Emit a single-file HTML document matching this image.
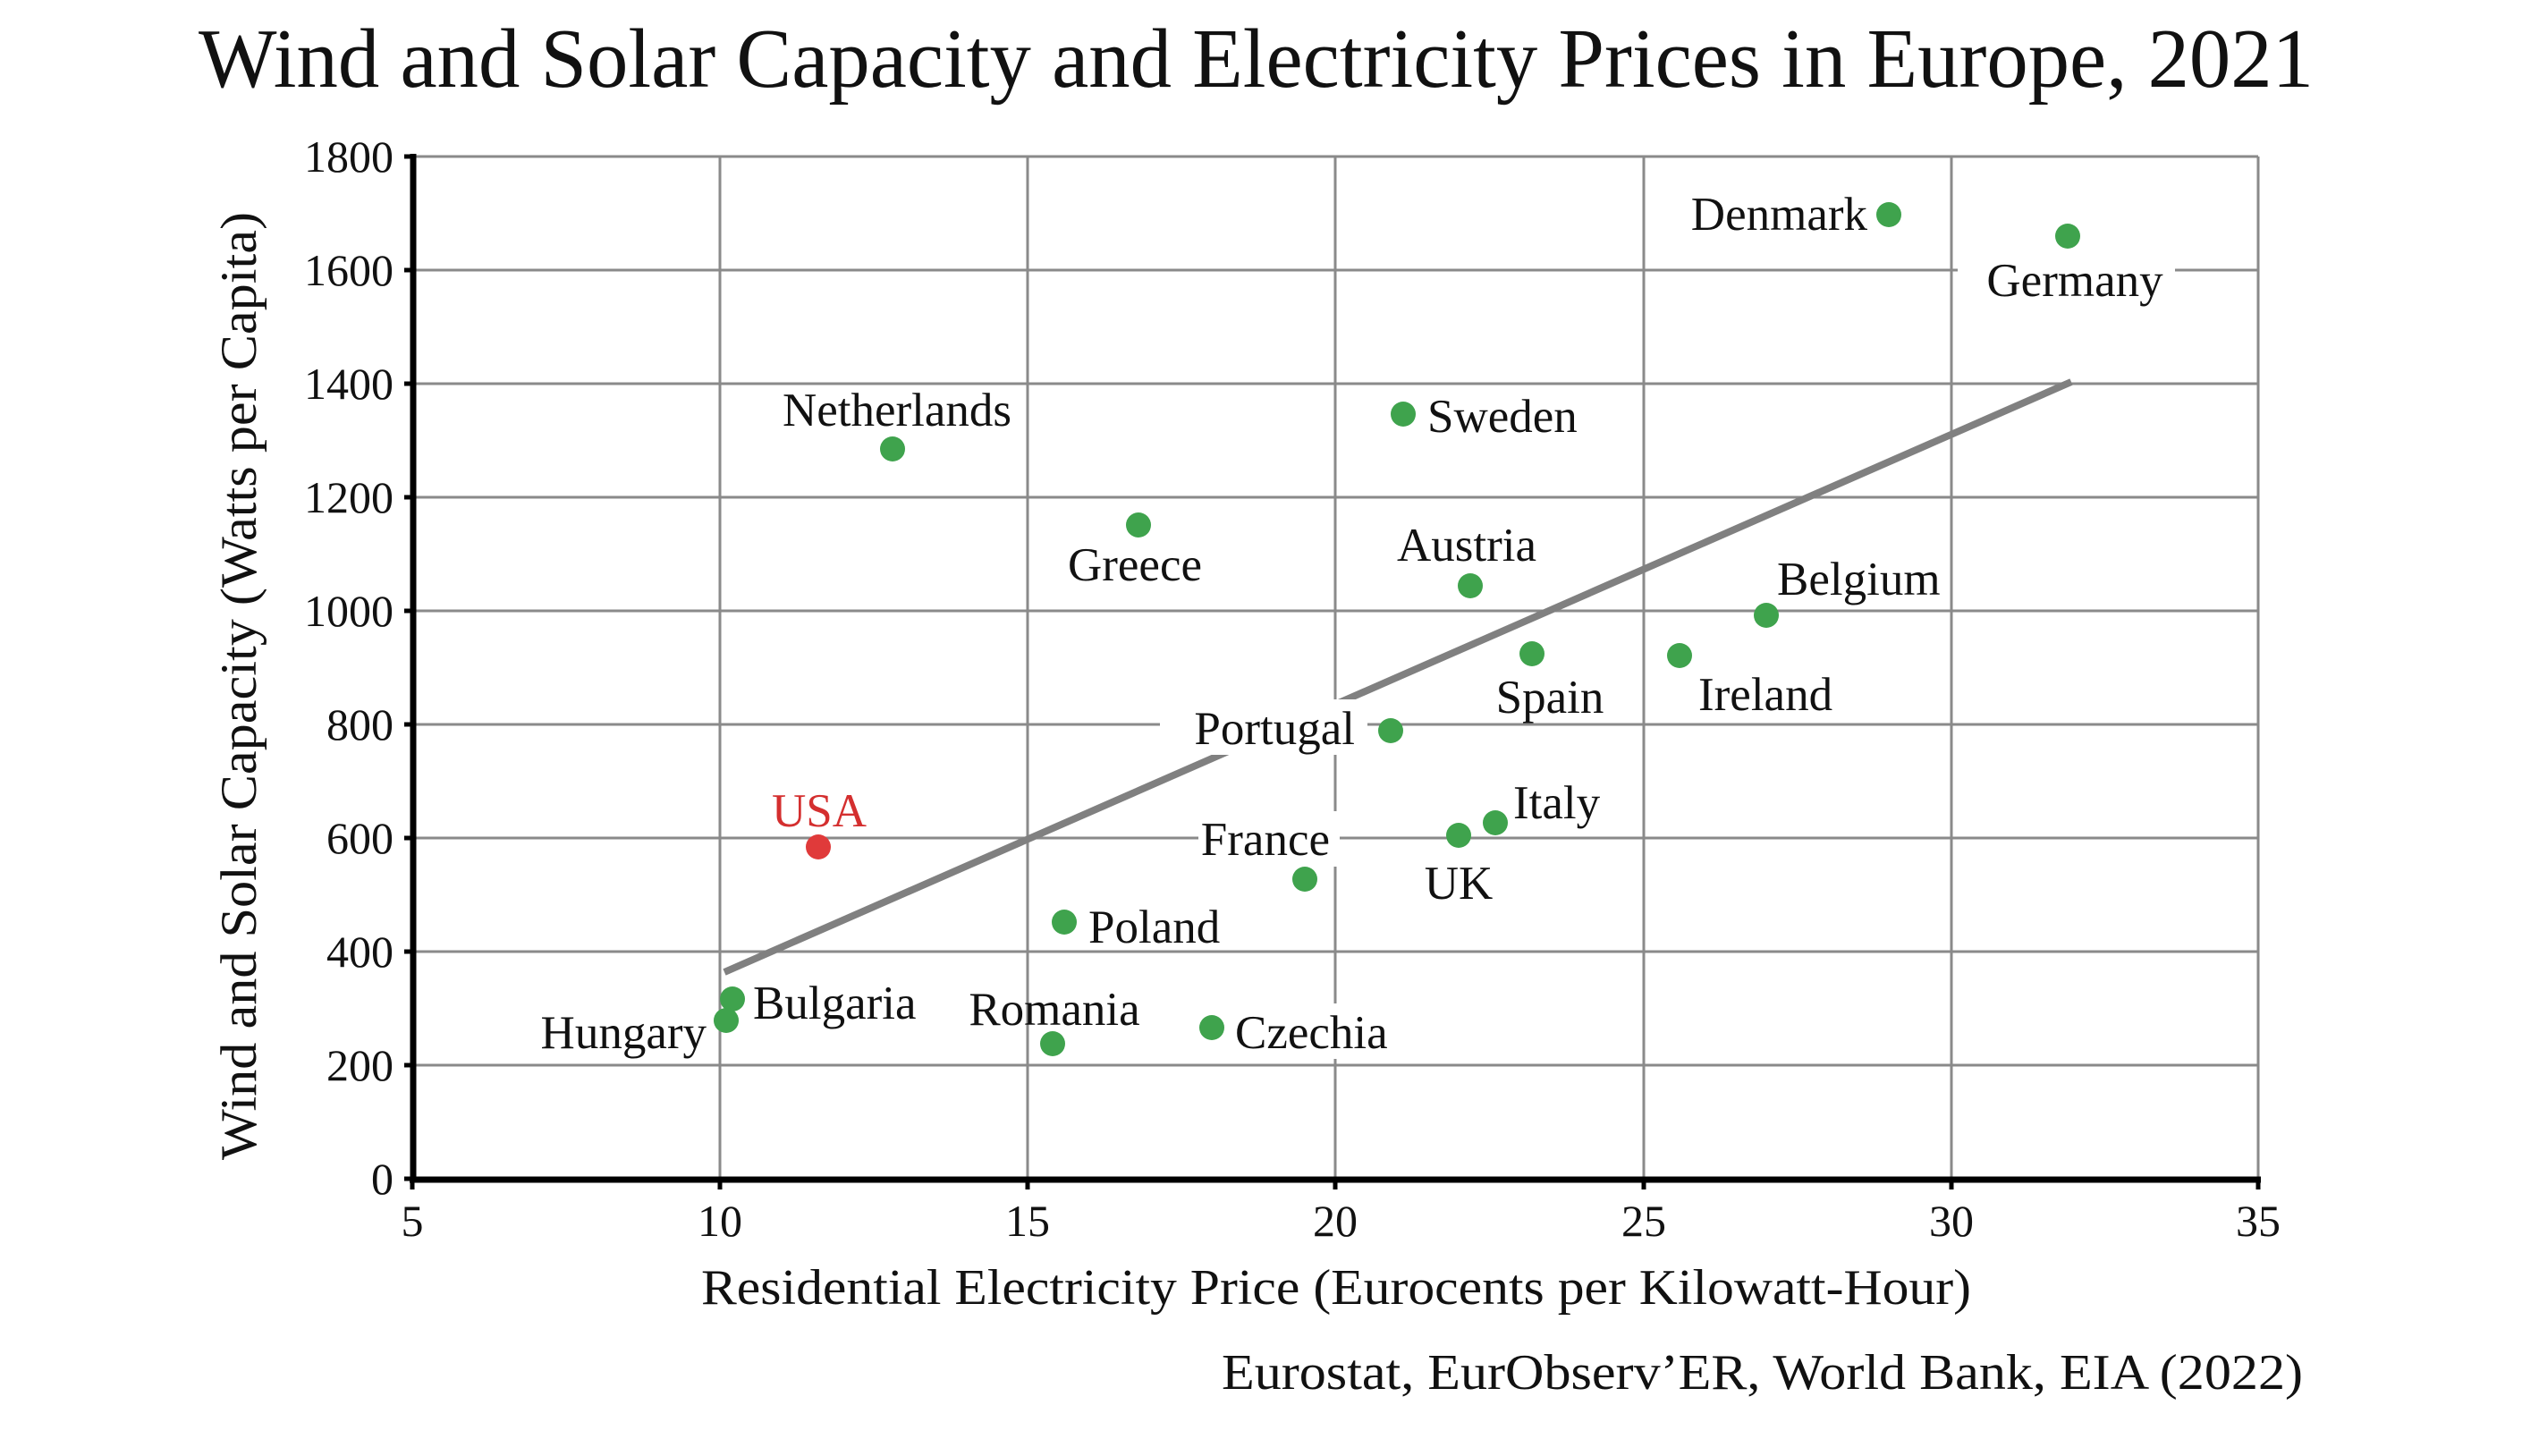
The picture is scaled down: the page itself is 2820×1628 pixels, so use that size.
<!DOCTYPE html>
<html><head><meta charset="utf-8"><style>
html,body{margin:0;padding:0;background:#fff;}
svg{display:block;}
text{font-family:"Liberation Serif",serif;fill:#111;}
</style></head><body>
<svg width="2820" height="1628" viewBox="0 0 2820 1628" xmlns="http://www.w3.org/2000/svg">
<rect width="2820" height="1628" fill="#fff"/>
<text x="222" y="97" font-size="94" textLength="2365" lengthAdjust="spacingAndGlyphs">Wind and Solar Capacity and Electricity Prices in Europe, 2021</text>
<g stroke="#8a8a8a" stroke-width="3">
<line x1="461" y1="175" x2="2525" y2="175"/>
<line x1="461" y1="302" x2="2525" y2="302"/>
<line x1="461" y1="429" x2="2525" y2="429"/>
<line x1="461" y1="556" x2="2525" y2="556"/>
<line x1="461" y1="683" x2="2525" y2="683"/>
<line x1="461" y1="810" x2="2525" y2="810"/>
<line x1="461" y1="937" x2="2525" y2="937"/>
<line x1="461" y1="1064" x2="2525" y2="1064"/>
<line x1="461" y1="1191" x2="2525" y2="1191"/>
<line x1="805" y1="175" x2="805" y2="1318"/>
<line x1="1149" y1="175" x2="1149" y2="1318"/>
<line x1="1493" y1="175" x2="1493" y2="1318"/>
<line x1="1838" y1="175" x2="1838" y2="1318"/>
<line x1="2182" y1="175" x2="2182" y2="1318"/>
<line x1="2525" y1="175" x2="2525" y2="1318"/>
</g>
<g stroke="#000" stroke-width="7">
<line x1="462" y1="172" x2="462" y2="1321"/>
<line x1="458" y1="1319" x2="2528" y2="1319"/>
</g>
<g stroke="#000" stroke-width="5">
<line x1="452" y1="175" x2="462" y2="175"/><line x1="452" y1="302" x2="462" y2="302"/><line x1="452" y1="429" x2="462" y2="429"/><line x1="452" y1="556" x2="462" y2="556"/><line x1="452" y1="683" x2="462" y2="683"/><line x1="452" y1="810" x2="462" y2="810"/><line x1="452" y1="937" x2="462" y2="937"/><line x1="452" y1="1064" x2="462" y2="1064"/><line x1="452" y1="1191" x2="462" y2="1191"/><line x1="452" y1="1318" x2="462" y2="1318"/>
<line x1="461" y1="1318" x2="461" y2="1330"/><line x1="805" y1="1318" x2="805" y2="1330"/><line x1="1149" y1="1318" x2="1149" y2="1330"/><line x1="1493" y1="1318" x2="1493" y2="1330"/><line x1="1838" y1="1318" x2="1838" y2="1330"/><line x1="2182" y1="1318" x2="2182" y2="1330"/><line x1="2525" y1="1318" x2="2525" y2="1330"/>
</g>
<g font-size="50" text-anchor="end">
<text x="440" y="192">1800</text><text x="440" y="319">1600</text><text x="440" y="446">1400</text><text x="440" y="573">1200</text><text x="440" y="700">1000</text><text x="440" y="827">800</text><text x="440" y="954">600</text><text x="440" y="1081">400</text><text x="440" y="1208">200</text><text x="440" y="1335">0</text>
</g>
<g font-size="50" text-anchor="middle">
<text x="461" y="1382">5</text><text x="805" y="1382">10</text><text x="1149" y="1382">15</text><text x="1493" y="1382">20</text><text x="1838" y="1382">25</text><text x="2182" y="1382">30</text><text x="2525" y="1382">35</text>
</g>
<text x="784" y="1458" font-size="56" textLength="1420" lengthAdjust="spacingAndGlyphs">Residential Electricity Price (Eurocents per Kilowatt-Hour)</text>
<text x="1366" y="1553" font-size="56" textLength="1209" lengthAdjust="spacingAndGlyphs">Eurostat, EurObserv’ER, World Bank, EIA (2022)</text>
<text transform="translate(286,767) rotate(-90)" x="-530" y="0" font-size="57" textLength="1060" lengthAdjust="spacingAndGlyphs">Wind and Solar Capacity (Watts per Capita)</text>
<line x1="810" y1="1087" x2="2316" y2="427" stroke="#808080" stroke-width="8"/>
<g fill="#fff">
<rect x="2189" y="282" width="243" height="62"/>
<rect x="1297" y="782" width="232" height="62"/>
<rect x="1340" y="907" width="158" height="62"/>
<rect x="598" y="1122" width="198" height="62"/>
<rect x="1376" y="1122" width="190" height="62"/>
</g>
<g fill="#3fa34d">
<circle cx="2112" cy="240" r="14"/><circle cx="2312" cy="264" r="14"/><circle cx="998" cy="502" r="14"/><circle cx="1569" cy="463" r="14"/><circle cx="1273" cy="587" r="14"/><circle cx="1644" cy="655" r="14"/><circle cx="1975" cy="688" r="14"/><circle cx="1713" cy="731" r="14"/><circle cx="1878" cy="733" r="14"/><circle cx="1555" cy="817" r="14"/><circle cx="1672" cy="920" r="14"/><circle cx="1631" cy="934" r="14"/><circle cx="1459" cy="983" r="14"/><circle cx="1190" cy="1031" r="14"/><circle cx="819" cy="1117" r="14"/><circle cx="812" cy="1141" r="14"/><circle cx="1177" cy="1167" r="14"/><circle cx="1355" cy="1149" r="14"/>
</g>
<circle cx="915" cy="947" r="14" fill="#e03a3a"/>
<g font-size="53">
<text x="2088" y="257" text-anchor="end">Denmark</text>
<text x="2320" y="331" text-anchor="middle">Germany</text>
<text x="1003" y="476" text-anchor="middle">Netherlands</text>
<text x="1596" y="483">Sweden</text>
<text x="1269" y="649" text-anchor="middle">Greece</text>
<text x="1640" y="627" text-anchor="middle">Austria</text>
<text x="1987" y="665">Belgium</text>
<text x="1733" y="797" text-anchor="middle">Spain</text>
<text x="1899" y="794">Ireland</text>
<text x="1515" y="832" text-anchor="end">Portugal</text>
<text x="1692" y="915">Italy</text>
<text x="1631" y="1005" text-anchor="middle">UK</text>
<text x="1487" y="956" text-anchor="end">France</text>
<text x="916" y="924" text-anchor="middle" style="fill:#d42f2f">USA</text>
<text x="1217" y="1054">Poland</text>
<text x="842" y="1139">Bulgaria</text>
<text x="790" y="1172" text-anchor="end">Hungary</text>
<text x="1179" y="1146" text-anchor="middle">Romania</text>
<text x="1381" y="1172">Czechia</text>
</g>
</svg>
</body></html>
